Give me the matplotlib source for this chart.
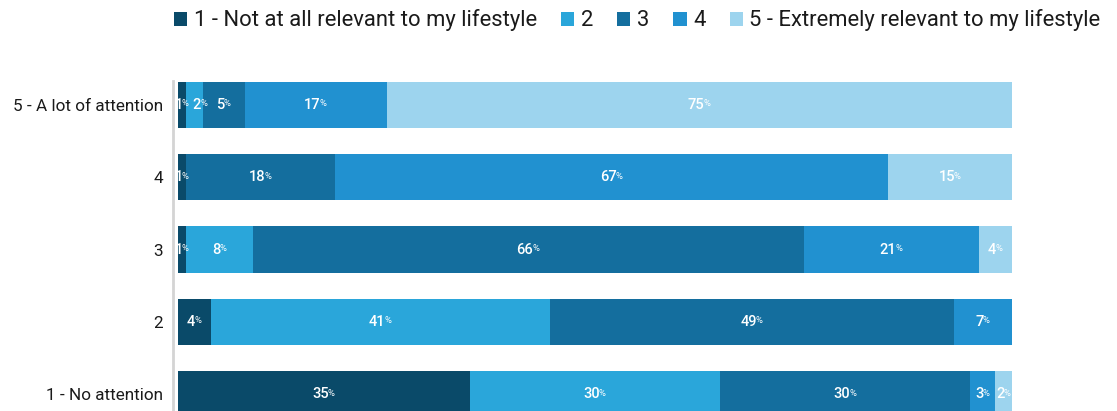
import numpy as np
import matplotlib
matplotlib.use("Agg")
import matplotlib.pyplot as plt
from matplotlib.patches import Patch

plt.rcParams['font.family'] = ['Roboto', 'DejaVu Sans']

# attention levels (bottom to top)
rows = ["1 - No attention", "2", "3", "4", "5 - A lot of attention"]
# relevance answers, one list per answer, values in % for each row
series = ["1 - Not at all relevant to my lifestyle", "2", "3", "4",
          "5 - Extremely relevant to my lifestyle"]
rel1 = [35, 4, 1, 1, 1]
rel2 = [30, 41, 8, 0, 2]
rel3 = [30, 49, 66, 18, 5]
rel4 = [3, 7, 21, 67, 17]
rel5 = [2, 0, 4, 15, 75]
colors = ["#0a4a69", "#2aa6da", "#146e9e", "#2191d0", "#9dd4ee"]

vals = np.array([rel1, rel2, rel3, rel4, rel5], dtype=float)
totals = vals.sum(axis=0)
shares = vals / totals * 100

fig = plt.figure(figsize=(11.17, 4.11), dpi=100)
ax = fig.add_axes([173 / 1117, 0.0, (1012 - 173) / 1117, 336 / 411])

y = np.arange(len(rows))
left = np.zeros(len(rows))
labels = {i: [] for i in range(len(rows))}
for k in range(len(series)):
    ax.barh(y, shares[k], left=left, height=0.637, color=colors[k],
            edgecolor='none')
    for i in range(len(rows)):
        if vals[k, i] <= 0:
            continue
        t = ax.text(left[i] + shares[k, i] / 2 - 0.4, y[i], f"{int(vals[k, i])}",
                    ha='center', va='center', color='white', fontsize=10.5,
                    fontweight='medium')
        labels[i].append(t)
    left += shares[k]

ax.set_xlim(-0.6, 100)
ax.set_ylim(-0.235, 4.415)
ax.set_yticks(y)
ax.set_yticklabels(rows, fontsize=12.3, color='#1a1a1a')
ax.tick_params(axis='y', length=0, pad=7)
ax.set_xticks([])
for s in ['top', 'right', 'bottom']:
    ax.spines[s].set_visible(False)
ax.spines['left'].set_color('#d4d4d4')
ax.spines['left'].set_linewidth(2)
ax.spines['left'].set_bounds(-0.3, 4.33)

# small superscript percent signs after each value,
# pushing crowded labels to the right so they don't collide
fig.canvas.draw()
r = fig.canvas.get_renderer()
inv = ax.transData.inverted()
px = ax.transData.transform((1, 0))[0] - ax.transData.transform((0, 0))[0]
for i, row_labels in labels.items():
    prev_right = -1e9
    for t in row_labels:
        bb = t.get_window_extent(renderer=r)
        if bb.x0 < prev_right + 4:
            shift = (prev_right + 4 - bb.x0) / px
            t.set_x(t.get_position()[0] + shift)
            bb = t.get_window_extent(renderer=r)
        x0, y0 = inv.transform((bb.x1 - 1.0, bb.y1 - 1.5))
        pc = ax.text(x0, y0, "%", ha='left', va='top', color='white',
                     fontsize=6.8)
        prev_right = pc.get_window_extent(renderer=r).x1

handles = [Patch(facecolor=c, edgecolor='none') for c in colors]
fig.legend(handles, series, loc='upper right', bbox_to_anchor=(1.003, 1.025),
           ncol=5, frameon=False, fontsize=15.8, handlelength=0.6,
           handleheight=0.6, handletextpad=0.3, columnspacing=1.1,
           labelcolor='#1a1a1a')

fig.savefig("out.png", dpi=100)
